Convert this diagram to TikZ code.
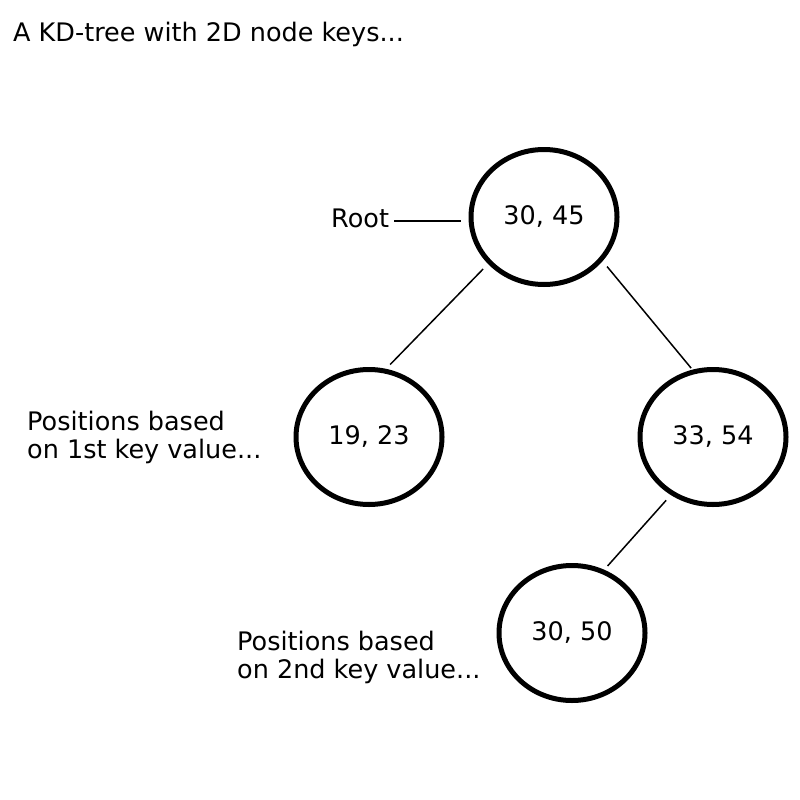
\documentclass[tikz,border=0pt]{standalone}
\usepackage{fontspec}
\setmainfont{DejaVu Sans}
\usetikzlibrary{shapes.geometric,calc}
\tikzset{
  keynode/.style={draw, ellipse, line width=5pt, minimum width=146pt, minimum height=135pt, inner sep=0pt, font=\fontsize{25.5}{30}\selectfont},
  edge/.style={line width=1.5pt},
  note/.style={inner sep=0pt, align=left, font=\fontsize{25.5}{28}\selectfont}
}
\begin{document}
\begin{tikzpicture}[x=1pt,y=-1pt]
\useasboundingbox (0,0) rectangle (800,800);
\node[note, anchor=base west] (title) at (13,42) {A KD-tree with 2D node keys...};
\node[keynode] (root) at (544,217) {30, 45};
\node[keynode] (l) at (369,437) {19, 23};
\node[keynode] (r) at (713,437) {33, 54};
\node[keynode] (b) at (572,633) {30, 50};
\node[note, anchor=base west] (rootlabel) at (331,227) {Root};
\node[note, anchor=north west] (note1) at (27,411) {Positions based\\on 1st key value...};
\node[note, anchor=north west] (note2) at (237,631) {Positions based\\on 2nd key value...};
\draw[edge] ($(rootlabel.base east)+(5,-6)$) -- ($(root.west)+(-8,4)$);
\draw[edge, shorten <=7pt, shorten >=6pt] (root.220) -- (l.76);
\draw[edge, shorten <=7pt, shorten >=2pt] (root.323) -- (r.107);
\draw[edge, shorten <=7pt, shorten >=5pt] (r.234) -- (b.63);
\end{tikzpicture}
\end{document}
